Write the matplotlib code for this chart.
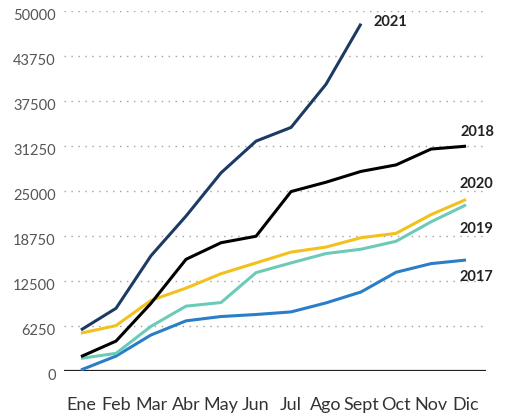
import matplotlib
matplotlib.use("Agg")
import matplotlib.pyplot as plt
import matplotlib.transforms as mtrans

plt.rcParams['font.family'] = ['Lato', 'DejaVu Sans']

months = ["Ene", "Feb", "Mar", "Abr", "May", "Jun", "Jul", "Ago", "Sept", "Oct", "Nov", "Dic"]
y2021 = [5700, 8700, 16000, 21500, 27500, 31900, 33800, 39800, 48200]
y2018 = [2000, 4150, 9400, 15500, 17800, 18700, 24900, 26200, 27700, 28600, 30800, 31200]
y2020 = [5250, 6300, 9800, 11500, 13500, 15000, 16500, 17200, 18500, 19100, 21700, 23800]
y2019 = [1750, 2450, 6200, 9000, 9500, 13650, 15000, 16300, 16900, 18000, 20700, 23050]
y2017 = [150, 2070, 5000, 6960, 7560, 7840, 8200, 9450, 10970, 13700, 14900, 15400]
yticks = [0, 6250, 12500, 18750, 25000, 31250, 37500, 43750, 50000]

series = [
    ("2017", y2017, "#2a7ec8"),
    ("2019", y2019, "#6ccbb8"),
    ("2020", y2020, "#f3c11d"),
    ("2018", y2018, "#000000"),
    ("2021", y2021, "#1d3a63"),
]

W, H = 511, 416
fig = plt.figure(figsize=(W / 100, H / 100), dpi=100)
left, right, bottom, top = 64, 486, 371, 10.7
ax = fig.add_axes([left / W, (H - bottom) / H, (right - left) / W, (bottom - top) / H])

x = list(range(len(months)))
for name, vals, col in series:
    ax.plot(x[:len(vals)], vals, color=col, lw=2.2, solid_capstyle='butt', zorder=3)

for t in yticks[1:]:
    ax.axhline(t, color="#a0a0a0", lw=1.0, ls=(0, (1, 4)), zorder=1)
ax.axhline(0, color="#222222", lw=1.6, zorder=2)

ax.set_xlim(-0.486, 11.57)
ax.set_ylim(0, 50000)
ax.set_yticks(yticks)
ax.set_yticklabels([str(t) for t in yticks], fontsize=10.5, color="#555555")
ax.set_xticks(x)
ax.set_xticklabels(months, fontsize=13, color="#333333")
ax.tick_params(axis='both', length=0)
ax.tick_params(axis='x', pad=19)
ax.tick_params(axis='y', pad=6)
off = mtrans.ScaledTranslation(0, -4 / 100, fig.dpi_scale_trans)
for lbl in ax.get_yticklabels():
    lbl.set_transform(lbl.get_transform() + off)
for s in ax.spines.values():
    s.set_visible(False)

lab = dict(fontsize=10.5, fontweight='bold', color="#222222", va='center', ha='left')
ax.text(8.35, 48400, "2021", **lab)
ax.text(10.85, 33100, "2018", **lab)
ax.text(10.8, 26000, "2020", **lab)
ax.text(10.8, 19700, "2019", **lab)
ax.text(10.8, 13100, "2017", **lab)

fig.savefig("out.png", dpi=100)
